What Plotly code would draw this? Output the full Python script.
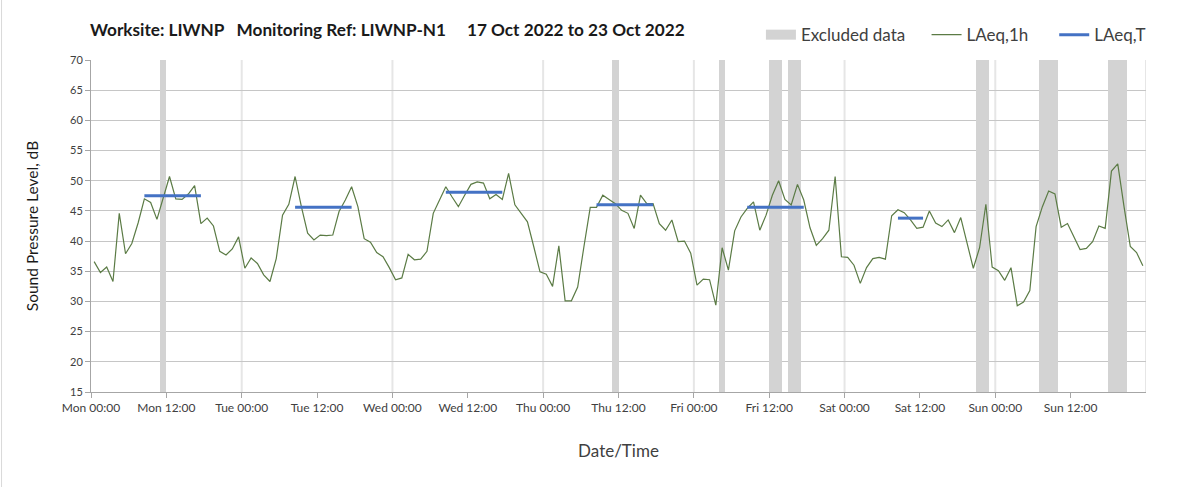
import plotly.graph_objects as go

# ---- data ----
hours = list(range(168))
laeq_1h = [
    36.6, 34.8, 35.7, 33.3, 44.6, 37.9, 39.6, 43.0, 47.0, 46.4, 43.6, 47.1,
    50.7, 47.0, 46.9, 47.8, 49.2, 42.9, 43.8, 42.5, 38.3, 37.7, 38.7, 40.7,
    35.5, 37.2, 36.3, 34.4, 33.3, 37.1, 44.3, 46.1, 50.7, 45.7, 41.3, 40.2,
    41.0, 40.9, 41.0, 44.9, 46.8, 49.0, 45.7, 40.4, 39.8, 38.1, 37.4, 35.6,
    33.6, 33.9, 37.8, 36.9, 37.0, 38.3, 44.6, 46.8, 49.0, 47.3, 45.7, 47.6,
    49.4, 49.8, 49.6, 47.0, 47.7, 46.9, 51.2, 46.0, 44.7, 43.2, 39.1, 34.9,
    34.5, 32.5, 39.2, 30.1, 30.1, 32.4, 39.1, 45.6, 45.6, 47.6, 46.9, 46.2,
    45.1, 44.6, 42.1, 47.6, 46.2, 46.2, 42.9, 41.8, 43.5, 39.9, 40.0, 38.0,
    32.7, 33.7, 33.6, 29.4, 38.9, 35.2, 41.7, 44.0, 45.4, 46.5, 41.8, 44.3,
    47.6, 50.0, 46.9, 46.0, 49.4, 46.8, 42.2, 39.3, 40.4, 41.8, 50.7, 37.4,
    37.3, 36.0, 33.0, 35.6, 37.1, 37.3, 37.0, 44.2, 45.2, 44.7, 43.5, 42.1,
    42.3, 45.0, 43.0, 42.4, 43.5, 41.4, 43.9, 39.6, 35.5, 38.9, 46.1, 35.7,
    35.1, 33.5, 35.6, 29.3, 29.9, 31.8, 42.4, 45.7, 48.3, 47.8, 42.3, 42.9,
    40.7, 38.6, 38.8, 39.9, 42.5, 42.1, 51.6, 52.8, 45.7, 39.1, 38.1, 35.9,
]

excl_start = [11, 83, 100, 108, 111, 141, 151, 162]
excl_end = [12, 84, 101, 110, 113, 143, 154, 165]

period_start = [8, 32, 56, 80, 104, 128]
period_end = [17, 41, 65, 89, 113, 132]
laeq_T = [47.5, 45.6, 48.1, 46.0, 45.6, 43.8]

tick_hours = list(range(0, 168, 12))
tick_labels = ["Mon 00:00", "Mon 12:00", "Tue 00:00", "Tue 12:00", "Wed 00:00",
               "Wed 12:00", "Thu 00:00", "Thu 12:00", "Fri 00:00", "Fri 12:00",
               "Sat 00:00", "Sat 12:00", "Sun 00:00", "Sun 12:00"]

y_min, y_max = 15, 70

# ---- figure ----
FONT = "Lato, 'Open Sans', sans-serif"
TXT = "#404040"
EXCL = "#d3d3d3"

fig = go.Figure()

fig.add_trace(go.Bar(
    x=[(s + e) / 2 for s, e in zip(excl_start, excl_end)],
    y=[y_max - y_min] * len(excl_start),
    base=[y_min] * len(excl_start),
    width=[e - s for s, e in zip(excl_start, excl_end)],
    marker=dict(color=EXCL, line=dict(width=0)),
    name="Excluded data", showlegend=False,
    hoverinfo="skip",
))
# legend entry (rectangle swatch) for the excluded data
fig.add_trace(go.Scatter(
    x=[None], y=[None], mode="lines", line=dict(color=EXCL, width=12),
    name="Excluded data", legend="legend",
))

fig.add_trace(go.Scatter(
    x=[h + 0.5 for h in hours], y=laeq_1h,
    mode="lines", line=dict(color="#5b7b45", width=1.2),
    name="LAeq,1h", legend="legend2",
))

xs, ys = [], []
for s, e, v in zip(period_start, period_end, laeq_T):
    xs += [s + 0.5, e + 0.5, None]
    ys += [v, v, None]
fig.add_trace(go.Scatter(
    x=xs, y=ys, mode="lines", line=dict(color="#4472c4", width=3),
    name="LAeq,T", legend="legend3",
))

shapes = []
for d in range(24, 169, 24):
    shapes.append(dict(type="line", xref="x", yref="paper", x0=d, x1=d, y0=0, y1=1,
                       line=dict(color="#e6e6e6", width=2), layer="below"))
# outer chart border (left edge)
shapes.append(dict(type="line", xref="paper", yref="paper",
                   x0=-0.0848, x1=-0.0848, y0=-0.29, y1=1.19,
                   line=dict(color="#d9d9d9", width=1)))

leg_common = dict(orientation="h", xanchor="left", y=1.075, yanchor="middle",
                  font=dict(size=17, color=TXT), bgcolor="rgba(0,0,0,0)")

fig.update_layout(
    width=1203, height=487,
    margin=dict(l=91, r=57, t=60, b=95),
    paper_bgcolor="white", plot_bgcolor="white",
    font=dict(family=FONT, color=TXT, size=12),
    title=dict(
        text="Worksite: LIWNP\u00a0\u00a0\u00a0Monitoring Ref: LIWNP-N1\u00a0\u00a0\u00a0\u00a0\u00a017 Oct 2022 to 23 Oct 2022",
        x=90 / 1203, xanchor="left", y=1 - 30 / 487, yanchor="middle",
        font=dict(family=FONT, size=17.2, color="#1a1a1a", weight="bold"),
    ),
    showlegend=True,
    legend=dict(x=0.635, **leg_common),
    legend2=dict(x=0.792, **leg_common),
    legend3=dict(x=0.913, **leg_common),
    bargap=0,
    shapes=shapes,
    xaxis=dict(
        range=[0, 168], tickvals=tick_hours, ticktext=tick_labels,
        showgrid=False, zeroline=False,
        showline=True, linecolor="#a6a6a6", linewidth=1,
        ticks="outside", ticklen=5, tickcolor="#a6a6a6",
        tickfont=dict(size=12, color=TXT),
        title=dict(text="Date/Time", font=dict(size=17, color=TXT), standoff=30),
    ),
    yaxis=dict(
        range=[y_min, y_max], dtick=5, tick0=15,
        showgrid=True, gridcolor="#c6c6c6", gridwidth=1, zeroline=False,
        showline=True, linecolor="#a6a6a6", linewidth=1,
        ticks="outside", ticklen=5, tickcolor="#a6a6a6",
        tickfont=dict(size=11, color=TXT),
        title=dict(text="Sound Pressure Level, dB", font=dict(size=15.5, color="#1a1a1a"), standoff=27),
    ),
)

fig.write_html("out.html", config={"displayModeBar": False},
               post_script="document.body.style.margin='0';")
